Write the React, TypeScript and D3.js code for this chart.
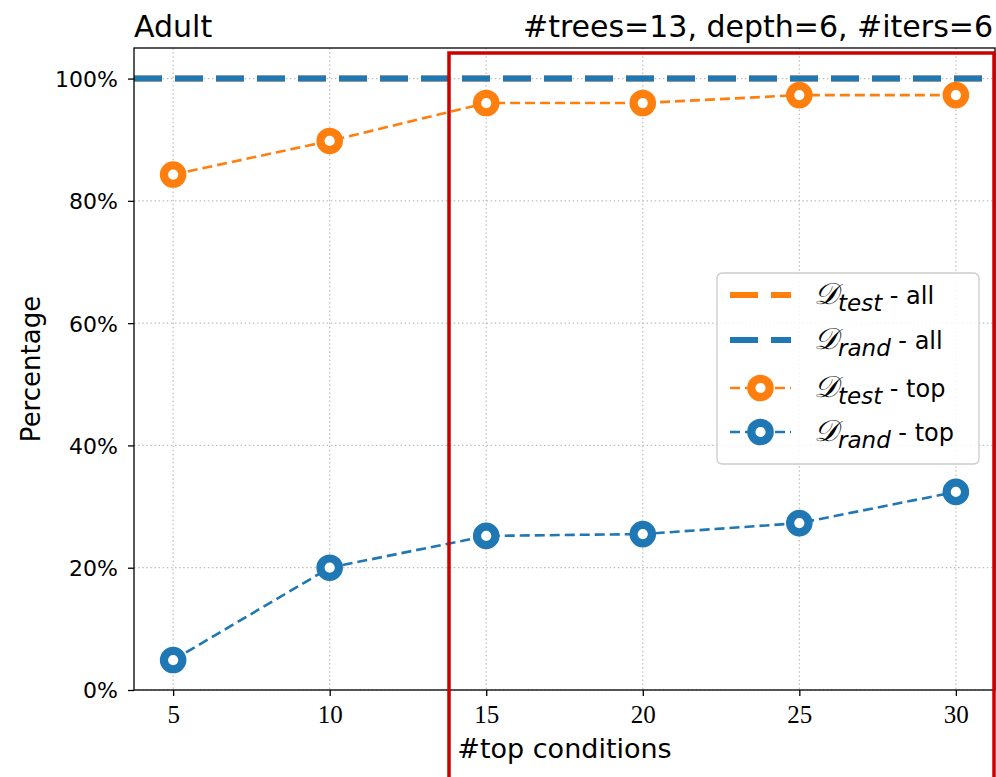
import React, {Component} from "react";
import * as d3 from "d3";

// #top conditions on the x axis
const conditions: number[] = [5, 10, 15, 20, 25, 30];
// percentages
const testTop: number[] = [84.3, 89.8, 96.0, 96.0, 97.3, 97.3];
const randTop: number[] = [4.9, 20.0, 25.2, 25.5, 27.3, 32.4];
const testAll: number = 100;
const randAll: number = 100;
const yTicks: number[] = [0, 20, 40, 60, 80, 100];
const xTicks: number[] = [5, 10, 15, 20, 25, 30];

const ORANGE = "#ff7f0e";
const BLUE = "#1f77b4";
const SANS = "'DejaVu Sans', sans-serif";
const SERIF = "'Liberation Serif', 'DejaVu Serif', serif";

class App extends Component<{}, {}> {
    svgRef = React.createRef<SVGSVGElement>();

    componentDidMount() {
        const margin = {top: 48, right: 1, bottom: 87, left: 134};
        const width = 996 - margin.left - margin.right;
        const height = 777 - margin.top - margin.bottom;
        const mainsvg: any = d3.select(this.svgRef.current);
        mainsvg.selectAll("*").remove();
        const svg = mainsvg.append("g")
            .attr("transform", `translate(${margin.left},${margin.top})`);

        const x = d3.scaleLinear().domain([3.75, 31.25]).range([0, width]);
        const y = d3.scaleLinear().domain([0, 105]).range([height, 0]);

        // grid
        const grid = svg.append("g")
            .attr("stroke", "#bdbdbd")
            .attr("stroke-width", 1.2)
            .attr("stroke-dasharray", "1.5,2.6");
        grid.selectAll("line.gx").data(xTicks).enter().append("line")
            .attr("x1", (d: number) => x(d)).attr("x2", (d: number) => x(d))
            .attr("y1", 0).attr("y2", height);
        grid.selectAll("line.gy").data(yTicks).enter().append("line")
            .attr("x1", 0).attr("x2", width)
            .attr("y1", (d: number) => y(d)).attr("y2", (d: number) => y(d));

        // horizontal "all" lines
        const allLines = [{v: testAll, c: ORANGE}, {v: randAll, c: BLUE}];
        svg.selectAll("line.all").data(allLines).enter().append("line")
            .attr("x1", 0).attr("x2", width)
            .attr("y1", (d: any) => y(d.v)).attr("y2", (d: any) => y(d.v))
            .attr("stroke", (d: any) => d.c)
            .attr("stroke-width", 6)
            .attr("stroke-dasharray", "28,13");

        // "top" series
        const series = [{vals: testTop, c: ORANGE}, {vals: randTop, c: BLUE}];
        const line = d3.line<number[]>().x(d => x(d[0])).y(d => y(d[1]));
        series.forEach(s => {
            const pts = conditions.map((k, i) => [k, s.vals[i]]);
            svg.append("path")
                .attr("d", line(pts))
                .attr("fill", "none")
                .attr("stroke", s.c)
                .attr("stroke-width", 2.6)
                .attr("stroke-dasharray", "10,5");
            svg.append("g").selectAll("circle").data(pts).enter().append("circle")
                .attr("cx", (pt: number[]) => x(pt[0]))
                .attr("cy", (pt: number[]) => y(pt[1]))
                .attr("r", 9.2)
                .attr("fill", "white")
                .attr("stroke", s.c)
                .attr("stroke-width", 8.2);
        });

        // axes
        const xAxis = svg.append("g")
            .attr("transform", `translate(0,${height})`)
            .call(d3.axisBottom(x).tickValues(xTicks).tickSize(6).tickSizeOuter(0).tickPadding(9));
        xAxis.selectAll("text")
            .attr("font-family", SERIF).attr("font-size", 25).attr("fill", "black");
        const yAxis = svg.append("g")
            .call(d3.axisLeft(y).tickValues(yTicks).tickSize(6).tickSizeOuter(0).tickPadding(10)
                .tickFormat((d: any) => `${d}%`));
        yAxis.selectAll("text")
            .attr("font-family", SANS).attr("font-size", 22).attr("fill", "black")
            .attr("dy", "0.36em");
        svg.selectAll(".domain").remove();
        svg.selectAll(".tick line").attr("stroke", "black").attr("stroke-width", 1.3);

        // spines
        svg.append("rect")
            .attr("x", 0).attr("y", 0).attr("width", width).attr("height", height)
            .attr("fill", "none").attr("stroke", "black").attr("stroke-width", 1.3);

        // titles and labels
        svg.append("text").attr("x", 0).attr("y", -11)
            .attr("font-family", SANS).attr("font-size", 30).text("Adult");
        svg.append("text").attr("x", width - 2).attr("y", -11)
            .attr("text-anchor", "end")
            .attr("font-family", SANS).attr("font-size", 30)
            .text("#trees=13, depth=6, #iters=6");
        svg.append("text").attr("x", width / 2).attr("y", height + 68)
            .attr("text-anchor", "middle")
            .attr("font-family", SANS).attr("font-size", 27)
            .text("#top conditions");
        svg.append("text")
            .attr("transform", `translate(${-margin.left + 40},${height / 2}) rotate(-90)`)
            .attr("text-anchor", "middle")
            .attr("font-family", SANS).attr("font-size", 26)
            .text("Percentage");

        // legend
        const lg = mainsvg.append("g").attr("transform", "translate(717,273)");
        lg.append("rect")
            .attr("width", 262).attr("height", 191).attr("rx", 5)
            .attr("fill", "white").attr("fill-opacity", 0.85)
            .attr("stroke", "#cccccc").attr("stroke-width", 1.3);
        const items = [
            {sub: "test", tail: " - all", c: ORANGE, kind: "all"},
            {sub: "rand", tail: " - all", c: BLUE, kind: "all"},
            {sub: "test", tail: " - top", c: ORANGE, kind: "top"},
            {sub: "rand", tail: " - top", c: BLUE, kind: "top"},
        ];
        const rowY = [22, 67, 115, 159];
        items.forEach((it, i) => {
            const g = lg.append("g").attr("transform", `translate(0,${rowY[i]})`);
            if (it.kind === "all") {
                g.append("line").attr("x1", 13).attr("x2", 74).attr("y1", 0).attr("y2", 0)
                    .attr("stroke", it.c).attr("stroke-width", 6).attr("stroke-dasharray", "28,13");
            } else {
                g.append("line").attr("x1", 13).attr("x2", 74).attr("y1", 0).attr("y2", 0)
                    .attr("stroke", it.c).attr("stroke-width", 2.6).attr("stroke-dasharray", "10,5");
                g.append("circle").attr("cx", 43.5).attr("cy", 0).attr("r", 9.2)
                    .attr("fill", "white").attr("stroke", it.c).attr("stroke-width", 8.2);
            }
            const t = g.append("text").attr("x", 97).attr("y", 9)
                .attr("font-family", SANS).attr("font-size", 24).attr("fill", "black");
            t.append("tspan").attr("font-family", "'DejaVu Serif', serif").attr("font-style", "italic")
                .attr("font-size", 30).text("\u{1D49F}");
            t.append("tspan").attr("font-style", "italic").attr("font-size", 23).attr("dy", 7).text(it.sub);
            t.append("tspan").attr("dy", -7).text(it.tail);
        });

        // red highlight box
        mainsvg.append("rect")
            .attr("x", 449).attr("y", 53).attr("width", 545).attr("height", 800)
            .attr("fill", "none").attr("stroke", "#cc0000").attr("stroke-width", 3.5);
    }

    render() {
        return (
            <svg ref={this.svgRef} width={996} height={777}
                 style={{position: "absolute", left: 0, top: 0, background: "white"}}></svg>
        );
    }
}

export default App;
